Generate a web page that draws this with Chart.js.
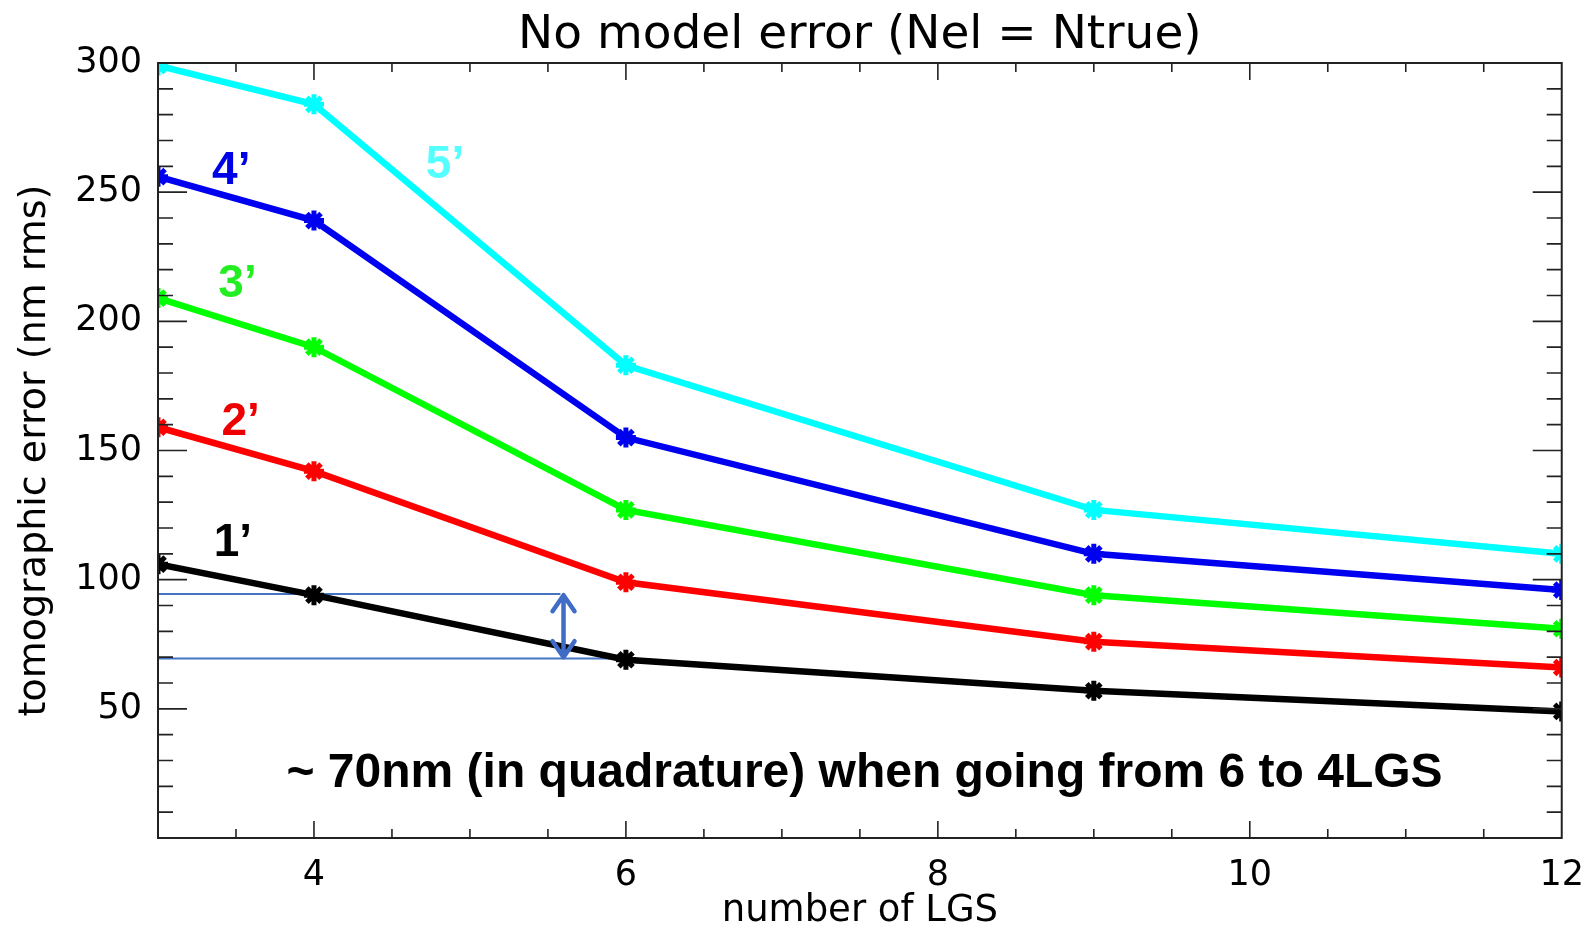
<!DOCTYPE html>
<html lang="en">

<head>
  <meta charset="UTF-8" />
  <script src="https://cdn.jsdelivr.net/npm/chart.js"></script>
  <title>No model error</title>
  <style>
    body { margin: 0; background: #fff; }
    #wrap { width: 1593px; height: 925px; }
  </style>
</head>

<body>
  <div id="wrap"><canvas id="tomoChart"></canvas></div>

  <script>
    // number of LGS (x positions of the points)
    const nLgs = [3, 4, 6, 9, 12];

    // tomographic error (nm rms), one series per field of view
    const err1 = [106, 94, 69, 57, 49];
    const err2 = [159, 142, 99, 76, 66];
    const err3 = [209, 190, 127, 94, 81];
    const err4 = [256, 239, 155, 110, 96];
    const err5 = [299, 284, 183, 127, 110];

    const seriesNames = ["1’", "2’", "3’", "4’", "5’"];

    // tick labels
    const xTickLabels = [4, 6, 8, 10, 12];
    const yTickLabels = [50, 100, 150, 200, 250, 300];

    // the two blue guide lines (black curve at 4 and at 6 LGS)
    const guideHigh = [{ x: 3, y: 94.5 }, { x: 5.58, y: 94.5 }];
    const guideLow = [{ x: 3, y: 69.5 }, { x: 6, y: 69.5 }];

    const lineColors = ["#000000", "#ff0000", "#00ff00", "#0000f0", "#00ffff"];
    const labelColors = ["#000000", "#ee0000", "#22ee22", "#0000e6", "#55ffff"];

    function toPoints(values) {
      return values.map((v, i) => ({ x: nLgs[i], y: v }));
    }

    const allSeries = [err1, err2, err3, err4, err5];
    const datasets = allSeries.map((vals, i) => ({
      label: seriesNames[i],
      data: toPoints(vals),
      borderColor: lineColors[i],
      backgroundColor: lineColors[i],
      borderWidth: 6.5,
      pointStyle: "star",
      pointRadius: 10,
      pointBorderWidth: 5,
      pointBorderColor: lineColors[i],
      tension: 0,
    }));

    const guideStyle = {
      borderColor: "#4472c4",
      borderWidth: 2,
      pointRadius: 0,
      tension: 0,
    };
    datasets.push(Object.assign({ label: "guide high", data: guideHigh }, guideStyle));
    datasets.push(Object.assign({ label: "guide low", data: guideLow }, guideStyle));

    // where the curve names sit (data coordinates)
    const seriesLabelPos = [
      { x: 3.48, y: 114 },
      { x: 3.53, y: 161 },
      { x: 3.51, y: 214.5 },
      { x: 3.47, y: 258 },
      { x: 4.84, y: 260.5 },
    ];

    // frame on all four sides with inward ticks, plus text and arrow
    const framePlugin = {
      id: "frame",
      afterDatasetsDraw(chart) {
        const ctx = chart.ctx;
        const area = chart.chartArea;
        const xs = chart.scales.x;
        const ys = chart.scales.y;

        ctx.save();
        ctx.strokeStyle = "#222";
        ctx.lineWidth = 2;
        ctx.strokeRect(area.left, area.top, area.right - area.left, area.bottom - area.top);

        ctx.lineWidth = 1.6;
        ctx.beginPath();
        for (let v = xs.min + 0.5; v < xs.max; v += 0.5) {
          const px = xs.getPixelForValue(v);
          const len = xTickLabels.includes(v) ? 17 : 9;
          ctx.moveTo(px, area.bottom);
          ctx.lineTo(px, area.bottom - len);
          ctx.moveTo(px, area.top);
          ctx.lineTo(px, area.top + len);
        }
        for (let v = ys.min + 10; v < ys.max; v += 10) {
          const py = ys.getPixelForValue(v);
          const len = v % 50 === 0 ? 29 : 15;
          ctx.moveTo(area.left, py);
          ctx.lineTo(area.left + len, py);
          ctx.moveTo(area.right, py);
          ctx.lineTo(area.right - len, py);
        }
        ctx.stroke();

        // curve names
        ctx.font = "bold 46px 'Liberation Sans', Arial, sans-serif";
        ctx.textAlign = "center";
        ctx.textBaseline = "middle";
        seriesLabelPos.forEach((p, i) => {
          ctx.fillStyle = labelColors[i];
          ctx.fillText(seriesNames[i], xs.getPixelForValue(p.x), ys.getPixelForValue(p.y));
        });

        // comment line
        ctx.fillStyle = "#000";
        ctx.font = "bold 48px 'Liberation Sans', Arial, sans-serif";
        ctx.fillText("~ 70nm (in quadrature) when going from 6 to 4LGS",
          xs.getPixelForValue(7.53), ys.getPixelForValue(25));

        // double headed arrow between the guides
        const ax = xs.getPixelForValue(5.6);
        const ay1 = ys.getPixelForValue(94);
        const ay2 = ys.getPixelForValue(70);
        ctx.strokeStyle = "#3f6cc6";
        ctx.lineWidth = 4.5;
        ctx.lineCap = "round";
        ctx.lineJoin = "round";
        ctx.beginPath();
        ctx.moveTo(ax, ay1 + 2);
        ctx.lineTo(ax, ay2 - 2);
        ctx.moveTo(ax - 11, ay1 + 16);
        ctx.lineTo(ax, ay1);
        ctx.lineTo(ax + 11, ay1 + 16);
        ctx.moveTo(ax - 11, ay2 - 16);
        ctx.lineTo(ax, ay2);
        ctx.lineTo(ax + 11, ay2 - 16);
        ctx.stroke();
        ctx.restore();
      },
    };

    const plainFont = "'DejaVu Sans', sans-serif";

    new Chart(document.getElementById("tomoChart"), {
      type: "line",
      data: { datasets: datasets },
      plugins: [framePlugin],
      options: {
        responsive: true,
        maintainAspectRatio: false,
        animation: false,
        layout: { padding: { left: 0, right: 31, top: 0, bottom: 0 } },
        plugins: {
          legend: { display: false },
          tooltip: { enabled: false },
          title: {
            display: true,
            fullSize: false,
            text: "No model error (Nel = Ntrue)",
            color: "#000",
            font: { family: plainFont, size: 47, weight: "normal", lineHeight: 1.05 },
            padding: { top: 11, bottom: 2.65 },
          },
        },
        scales: {
          x: {
            type: "linear",
            min: 3,
            max: 12,
            afterBuildTicks: (s) => { s.ticks = xTickLabels.map((v) => ({ value: v })); },
            afterFit: (s) => { s.height = 87; },
            grid: { display: false },
            border: { display: false },
            ticks: {
              color: "#000",
              padding: 9,
              maxRotation: 0,
              font: { family: plainFont, size: 35, lineHeight: 1.2 },
            },
            title: {
              display: true,
              text: "number of LGS",
              color: "#000",
              font: { family: plainFont, size: 37, lineHeight: 0.7 },
              padding: { top: 0, bottom: 1 },
            },
          },
          y: {
            type: "linear",
            min: 0,
            max: 300,
            afterBuildTicks: (s) => { s.ticks = yTickLabels.map((v) => ({ value: v })); },
            afterFit: (s) => { s.width = 158; },
            grid: { display: false },
            border: { display: false },
            ticks: {
              color: "#000",
              padding: 8,
              font: { family: plainFont, size: 35, lineHeight: 1.2 },
            },
            title: {
              display: true,
              text: "tomographic error (nm rms)",
              color: "#000",
              font: { family: plainFont, size: 38, lineHeight: 1.2 },
              padding: { top: 12, bottom: 0 },
            },
          },
        },
      },
    });
  </script>
</body>

</html>
